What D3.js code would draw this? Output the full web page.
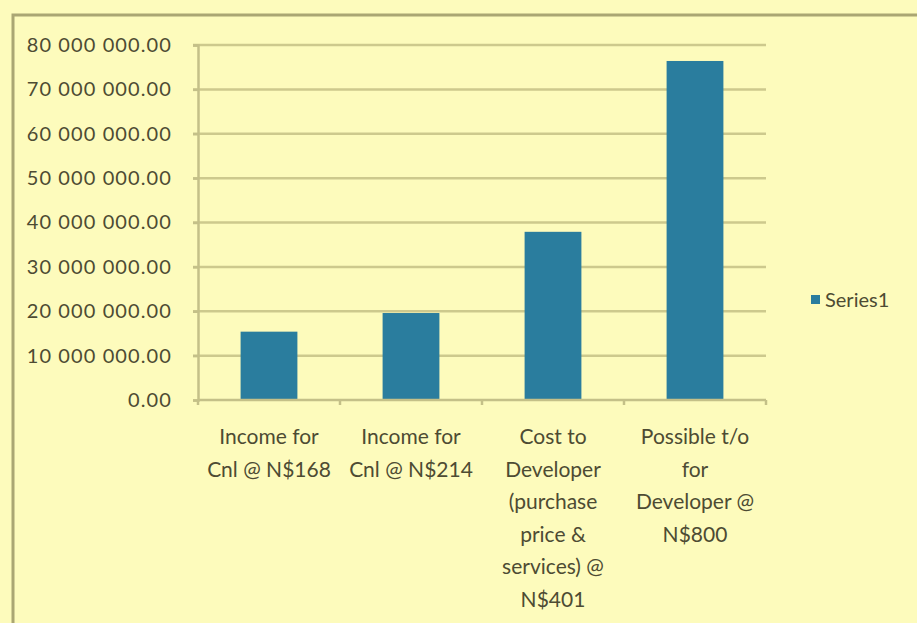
<!DOCTYPE html>
<html>
<head>
<meta charset="utf-8">
<script src="https://cdn.jsdelivr.net/npm/d3@7"></script>
<style>
  html, body { margin: 0; padding: 0; background: #fdfbbc; }
  svg { display: block; }
  text { font-family: Lato, "Open Sans", sans-serif; fill: #4d4b33; }
</style>
</head>
<body>
<svg id="chart" width="917" height="623"></svg>
<script>
const categories = [
  "Income for\nCnl @ N$168",
  "Income for\nCnl @ N$214",
  "Cost to\nDeveloper\n(purchase\nprice &\nservices) @\nN$401",
  "Possible t/o\nfor\nDeveloper @\nN$800"
];
const series1 = [15400000, 19600000, 37900000, 76400000];
const seriesName = "Series1";
const yTicks = [0, 10000000, 20000000, 30000000, 40000000, 50000000, 60000000, 70000000, 80000000];

(function () {
const svg = d3.select("#chart");
const W = 917, H = 623;

svg.append("rect").attr("x", 0).attr("y", 0).attr("width", W).attr("height", H).attr("fill", "#fdfbbc");
// chart border (extends beyond picture on right/bottom)
svg.append("rect").attr("x", 13).attr("y", 15).attr("width", 940).attr("height", 640)
  .attr("fill", "none").attr("stroke", "#aaa673").attr("stroke-width", 3);

const pLeft = 198, pRight = 766, pTop = 45, pBottom = 400;
const x = d3.scaleBand().domain(categories).range([pLeft, pRight]).paddingInner(0.6).paddingOuter(0.3);
const y = d3.scaleLinear().domain([0, 80000000]).range([pBottom, pTop]);

const loc = d3.formatLocale({decimal: ".", thousands: " ", grouping: [3], currency: ["", ""]});
const fmt = loc.format(",.2f");

// gridlines
svg.append("g").selectAll("line").data(yTicks.filter(d => d > 0)).join("line")
  .attr("x1", pLeft - 5).attr("x2", pRight)
  .attr("y1", d => y(d)).attr("y2", d => y(d))
  .attr("stroke", "#cdc98d").attr("stroke-width", 2.5);

// y axis
const yAxis = svg.append("g").attr("transform", `translate(${pLeft},0)`)
  .call(d3.axisLeft(y).tickValues(yTicks).tickFormat(fmt).tickSize(5).tickPadding(21));
yAxis.select(".domain").attr("stroke", "#c4c088").attr("stroke-width", 2.5);
yAxis.selectAll(".tick line").attr("stroke", "#c4c088").attr("stroke-width", 2.5);
yAxis.selectAll("text").attr("font-size", 20).attr("letter-spacing", 1.1)
  .style("font-family", "Lato, sans-serif").attr("fill", "#4d4b33");

// bars
svg.append("g").selectAll("rect").data(series1).join("rect")
  .attr("x", (d, i) => x(categories[i]))
  .attr("width", x.bandwidth())
  .attr("y", d => y(d))
  .attr("height", d => y(0) - y(d))
  .attr("fill", "#2a7d9e");

// x axis
const xAxisG = svg.append("g");
xAxisG.append("line").attr("x1", pLeft).attr("x2", pRight).attr("y1", pBottom).attr("y2", pBottom)
  .attr("stroke", "#c4c088").attr("stroke-width", 2.5);
const bounds = d3.range(categories.length + 1).map(i => pLeft + (pRight - pLeft) * i / categories.length);
xAxisG.selectAll(".xt").data(bounds).join("line").attr("class", "xt")
  .attr("x1", d => d).attr("x2", d => d).attr("y1", pBottom).attr("y2", pBottom + 5)
  .attr("stroke", "#c4c088").attr("stroke-width", 2.5);

// category labels
const lab = svg.append("g").selectAll("text").data(categories).join("text")
  .attr("text-anchor", "middle").attr("font-size", 21)
  .attr("x", d => x(d) + x.bandwidth() / 2)
  .attr("y", 444);
lab.each(function(d) {
  const t = d3.select(this);
  d.split("\n").forEach((line, i) => {
    t.append("tspan").attr("x", x(d) + x.bandwidth() / 2).attr("dy", i === 0 ? 0 : 32.6).text(line);
  });
});

// legend
const lg = svg.append("g");
lg.append("rect").attr("x", 811).attr("y", 295).attr("width", 9).attr("height", 9).attr("fill", "#2a7d9e");
lg.append("text").attr("x", 825).attr("y", 307).attr("font-size", 20).text(seriesName);
})();
</script>
</body>
</html>
